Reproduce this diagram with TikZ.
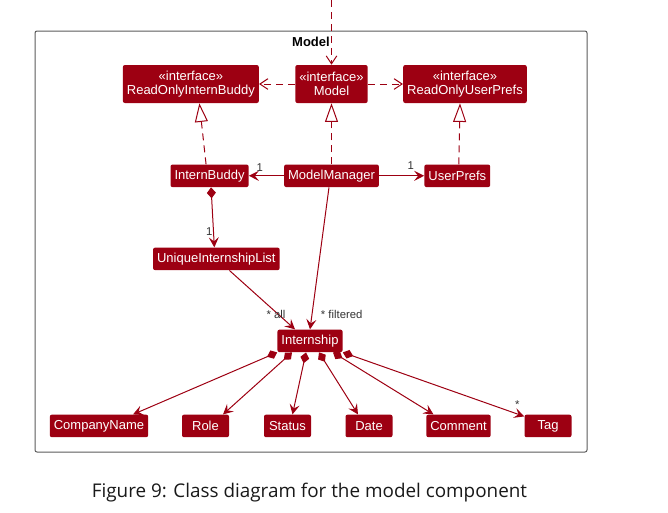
\documentclass[tikz,border=0pt]{standalone}
\usepackage{fontspec}
\setmainfont{Liberation Sans}
\newfontfamily\captionfont{Open Sans}
\usetikzlibrary{positioning,calc,arrows.meta}
\definecolor{modelred}{HTML}{9D0012}
\definecolor{framegray}{HTML}{5A5A5A}

\tikzset{
  cls/.style={rectangle, rounded corners=1.5pt, fill=modelred, text=white,
    font=\fontsize{9.75}{10.5}\selectfont, inner xsep=3pt, inner ysep=0pt,
    minimum height=16.9pt, minimum width=35.25pt},
  iface/.style={cls, align=center, minimum height=28.5pt},
  dep/.style={draw=modelred, line width=0.75pt, dash pattern=on 5.25pt off 3.75pt,
    -{Straight Barb[length=6pt,width=8pt]}},
  real/.style={draw=modelred, line width=0.75pt, dash pattern=on 5.25pt off 3.75pt,
    -{Triangle[open,length=14pt,width=9.75pt,fill=white]}},
  assoc/.style={draw=modelred, line width=0.75pt,
    -{Stealth[length=7.5pt,width=7.5pt,inset=3pt]}},
  comp/.style={draw=modelred, line width=0.75pt,
    {Diamond[length=8.25pt,width=6.75pt]}-{Stealth[length=7.5pt,width=7.5pt,inset=3pt]}},
  lbl/.style={font=\fontsize{8.5}{9}\selectfont, text=black!80, inner sep=0pt},
}

\begin{document}
\begin{tikzpicture}[x=0.75pt, y=-0.75pt]
  \useasboundingbox (0,0) rectangle (668,512);
  % Package frame
  \draw[framegray, line width=0.75pt, rounded corners=1.5pt] (35,31) rectangle (587,452);
  \node[font=\bfseries\fontsize{9.75}{11}\selectfont] (title) at (311,41.7) {Model};
  % Define nodes
  \node[iface] (Model) at (331.5,84) {«interface»\\Model};
  \node[iface, left=27pt of Model] (ROInternBuddy) {«interface»\\ReadOnlyInternBuddy};
  \node[iface, right=26.25pt of Model] (ROUserPrefs) {«interface»\\ReadOnlyUserPrefs};
  \node[cls, below=45.75pt of Model] (ModelManager) {ModelManager};
  \node[cls, left=26.25pt of ModelManager] (InternBuddy) {InternBuddy};
  \node[cls, right=33.75pt of ModelManager] (UserPrefs) {UserPrefs};
  \node[cls, below=45pt of InternBuddy, xshift=5.1pt] (UniqueList) {UniqueInternshipList};
  \node[cls, below=106.5pt of ModelManager, xshift=-16.125pt] (Internship) {Internship};
  \node[cls, below=46.5pt of Internship, xshift=-158.25pt] (CompanyName) {CompanyName};
  \node[cls, below=46.5pt of Internship, xshift=-78.375pt] (Role) {Role};
  \node[cls, below=46.5pt of Internship, xshift=-16.875pt] (Status) {Status};
  \node[cls, below=46.5pt of Internship, xshift=44.25pt] (Date) {Date};
  \node[cls, below=46.5pt of Internship, xshift=111.375pt] (Comment) {Comment};
  \node[cls, below=46.5pt of Internship, xshift=178.5pt] (Tag) {Tag};
  \coordinate (entry) at (331.5,0);
  % Connect nodes
  \draw[dep] (entry) -- (Model.north);
  \draw[dep] (Model) -- (ROInternBuddy);
  \draw[dep] (Model) -- (ROUserPrefs);
  \draw[real] ($(InternBuddy.north)+(-3.5,0)$) -- ($(ROInternBuddy.south)+(8.5,0)$);
  \draw[real] (ModelManager) -- (Model);
  \draw[real] ($(UserPrefs.north)+(1.5,0)$) -- ($(ROUserPrefs.south)+(-5,0)$);
  \draw[assoc] (ModelManager) -- (InternBuddy)
    node[lbl, pos=1, xshift=8.25pt, yshift=6pt] {1};
  \draw[assoc] (ModelManager) -- (UserPrefs)
    node[lbl, pos=1, xshift=-10pt, yshift=7.5pt] {1};
  \draw[comp] ($(InternBuddy.south)+(1.5,0)$) -- ($(UniqueList.north)+(-2,0)$)
    node[lbl, pos=1, xshift=-3.75pt, yshift=11.6pt] {1};
  \draw[assoc] ($(UniqueList.south)+(13,0)$) -- ($(Internship.north)+(-15,0)$)
    node[lbl, pos=1, xshift=-14.25pt, yshift=11.25pt] {* all};
  \draw[assoc] ($(ModelManager.south)+(-2.5,0)$) -- (Internship.north)
    node[lbl, pos=1, xshift=23.8pt, yshift=11.25pt] {* filtered};
  \draw[comp] (Internship.south west) -- ($(CompanyName.north)+(34,0)$);
  \draw[comp] ($(Internship.south)+(-18,0)$) -- ($(Role.north)+(17.5,0)$);
  \draw[comp] ($(Internship.south)+(-4,0)$) -- ($(Status.north)+(5,0)$);
  \draw[comp] ($(Internship.south)+(9,0)$) -- ($(Date.north)+(-11,0)$);
  \draw[comp] ($(Internship.south)+(23,0)$) -- ($(Comment.north)+(-25,0)$);
  \draw[comp] (Internship.south east) -- ($(Tag.north west)+(0,2)$)
    node[lbl, pos=1, xshift=-5.25pt, yshift=9pt] {*};
  % Caption
  \node[font=\captionfont\fontsize{14.15}{17}\selectfont, anchor=base, text=black!90]
    (caption) at (309.5,497) {Figure 9: Class diagram for the model component};
\end{tikzpicture}
\end{document}
